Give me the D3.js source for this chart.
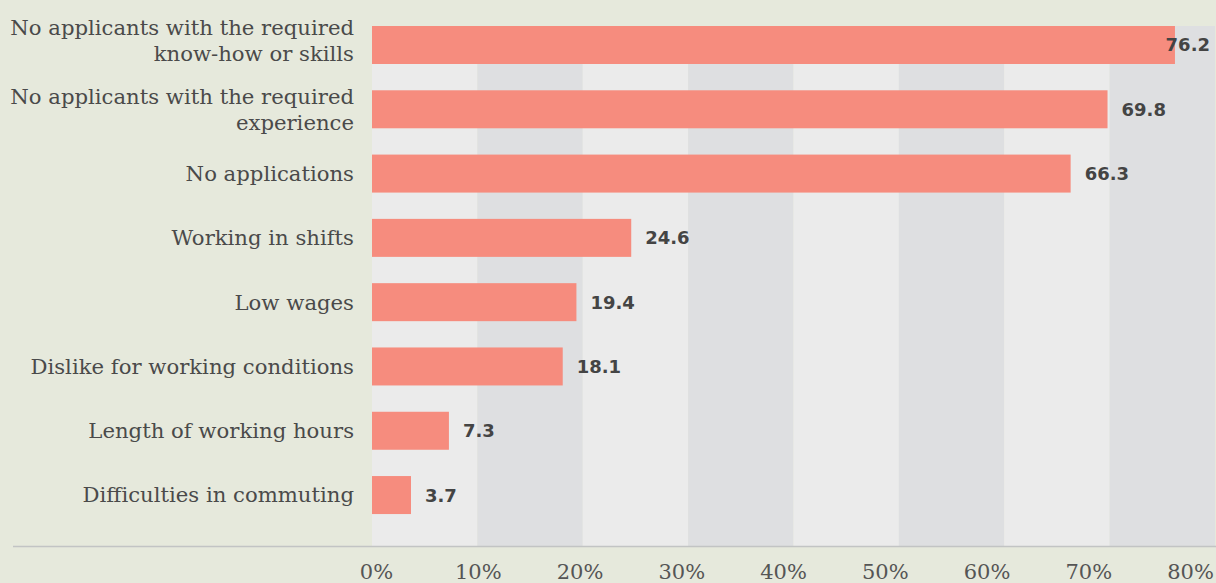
<!DOCTYPE html>
<html><head><meta charset="utf-8">
<script src="https://cdn.jsdelivr.net/npm/d3@7"></script>
<style>
html,body{margin:0;padding:0;background:#e6e9dc;}
svg{display:block;}
</style></head>
<body>
<svg id="chart" width="1216" height="583"></svg>
<script>
const categories = [
  ["No applicants with the required","know-how or skills"],
  ["No applicants with the required","experience"],
  ["No applications"],
  ["Working in shifts"],
  ["Low wages"],
  ["Dislike for working conditions"],
  ["Length of working hours"],
  ["Difficulties in commuting"]
];
const values = [76.2, 69.8, 66.3, 24.6, 19.4, 18.1, 7.3, 3.7];
const tickValues = [0,10,20,30,40,50,60,70,80];
const tickLabels = ["0%","10%","20%","30%","40%","50%","60%","70%","80%"];

const W = 1216, H = 583;
const svg = d3.select("#chart");
svg.append("rect").attr("width",W).attr("height",H).attr("fill","#e6e9dc");

const x = d3.scaleLinear().domain([0,80]).range([372,1215]);
const xLab = d3.scaleLinear().domain([0,80]).range([376,1190]);
const y = d3.scaleBand().domain(d3.range(categories.length)).range([26,546])
  .paddingInner(0.409).paddingOuter(0.2485).align(0);

// alternating bands
const bands = d3.range(0,80,10);
svg.append("g").selectAll("rect").data(bands).join("rect")
  .attr("x", d=>x(d)).attr("width", d=>x(d+10)-x(d))
  .attr("y", 26).attr("height", 546-26)
  .attr("fill", (d,i)=> i%2===0 ? "#ebebeb" : "#dedfe1");

// bars
svg.append("g").selectAll("rect").data(values).join("rect")
  .attr("x", x(0)).attr("y", (d,i)=>y(i))
  .attr("width", d=>x(d)-x(0)).attr("height", y.bandwidth())
  .attr("fill","#f68c7e");

// value labels
const vl = svg.append("g").selectAll("text").data(values).join("text")
  .attr("y", (d,i)=>y(i)+y.bandwidth()/2)
  .attr("dy","0.36em")
  .attr("font-family","DejaVu Sans")
  .attr("font-weight","bold")
  .attr("font-size",18)
  .attr("fill","#444")
  .text(d=>d.toFixed(1));
vl.each(function(d){
  const t = d3.select(this);
  const w = this.getComputedTextLength();
  let px = x(d)+14;
  if (px + w > W-6) px = W-6-w;
  t.attr("x", px);
});

// category labels
const cl = svg.append("g").selectAll("text").data(categories).join("text")
  .attr("text-anchor","end")
  .attr("font-family","DejaVu Serif")
  .attr("font-size",21.2)
  .attr("fill","#4a4a4a");
cl.each(function(d,i){
  const t = d3.select(this);
  const cy = y(i)+y.bandwidth()/2 - (i===0 ? 4 : 0);
  const lh = 26;
  const start = cy - (d.length-1)*lh/2;
  d.forEach((line,j)=>{
    t.append("tspan").attr("x",354).attr("y",start+j*lh).attr("dy","0.35em").text(line);
  });
});

// axis line
svg.append("line").attr("x1",13).attr("x2",W).attr("y1",546.5).attr("y2",546.5)
  .attr("stroke","#c2c4c4").attr("stroke-width",1.5);

// tick labels
const ax = svg.append("g").attr("transform","translate(0,546)")
  .call(d3.axisBottom(xLab).tickValues(tickValues).tickFormat((d,i)=>tickLabels[i]).tickSize(0).tickPadding(18));
ax.select(".domain").remove();
ax.selectAll("text").attr("font-family","DejaVu Serif").attr("font-size",21).attr("fill","#555");
</script>
</body></html>
